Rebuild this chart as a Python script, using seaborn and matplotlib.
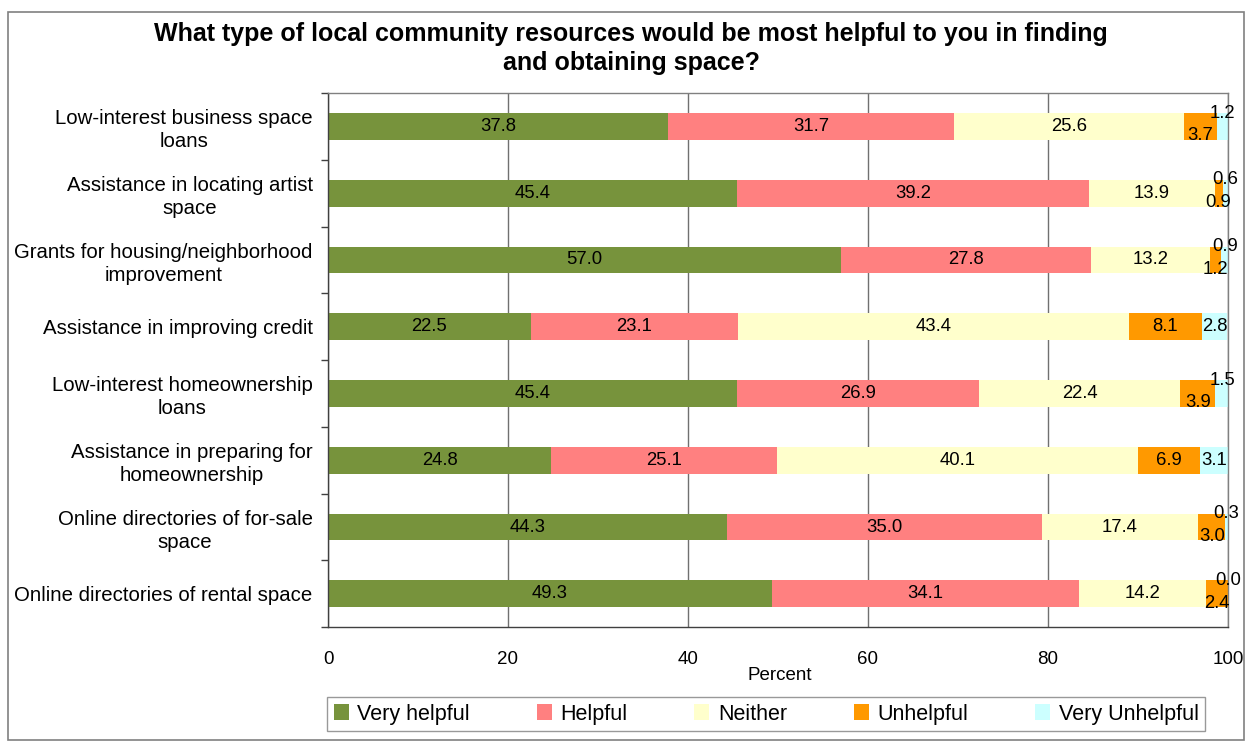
import numpy as np
import pandas as pd
import matplotlib
matplotlib.use('Agg')
import matplotlib.pyplot as plt
import seaborn as sns
from matplotlib.patches import Rectangle, Patch

items = ['Low-interest business space\nloans',
         'Assistance in locating artist\nspace',
         'Grants for housing/neighborhood\nimprovement',
         'Assistance in improving credit',
         'Low-interest homeownership\nloans',
         'Assistance in preparing for\nhomeownership',
         'Online directories of for-sale\nspace',
         'Online directories of rental space']

very_helpful = [37.8, 45.4, 57.0, 22.5, 45.4, 24.8, 44.3, 49.3]
helpful = [31.7, 39.2, 27.8, 23.1, 26.9, 25.1, 35.0, 34.1]
neither = [25.6, 13.9, 13.2, 43.4, 22.4, 40.1, 17.4, 14.2]
unhelpful = [3.7, 0.9, 1.2, 8.1, 3.9, 6.9, 3.0, 2.4]
very_unhelpful = [1.2, 0.6, 0.9, 2.8, 1.5, 3.1, 0.3, 0.0]

series_names = ['Very helpful', 'Helpful', 'Neither', 'Unhelpful', 'Very Unhelpful']
colors = ['#77933C', '#FF8080', '#FFFFCC', '#FF9900', '#CCFFFF']

df = pd.DataFrame({'item': items, 'Very helpful': very_helpful, 'Helpful': helpful,
                   'Neither': neither, 'Unhelpful': unhelpful, 'Very Unhelpful': very_unhelpful})
cum = df[series_names].cumsum(axis=1)

sns.set_style('white')
plt.rcParams['font.family'] = ['Liberation Sans', 'DejaVu Sans']
plt.rcParams['text.color'] = 'black'
plt.rcParams['xtick.color'] = 'black'
plt.rcParams['ytick.color'] = 'black'
plt.rcParams['axes.labelcolor'] = 'black'

fig = plt.figure(figsize=(12.5, 7.44), dpi=100)
ax = fig.add_axes([0.2624, 0.157, 0.72, 0.718])

# stacked bars: draw cumulative totals from the largest down
for name, col in reversed(list(zip(series_names, colors))):
    sns.barplot(x=cum[name], y=df['item'], color=col, orient='h', width=0.40,
                ax=ax, errorbar=None, saturation=1, linewidth=0)

# data labels
for i in range(len(items)):
    left = 0
    for name in series_names:
        v = df.loc[i, name]
        xc = left + v / 2
        yc = i
        if name == 'Unhelpful' and v < 5:
            yc = i + 0.14
        if name == 'Very Unhelpful' and v < 2:
            yc = i - 0.2
        ax.text(xc, yc, f'{v:.1f}', ha='center', va='center', fontsize=13.3, color='black')
        left += v

ax.set_xlim(0, 100)
ax.set_ylim(len(items) - 0.5, -0.5)
ax.set_xticks([0, 20, 40, 60, 80, 100])
ax.set_yticks(np.arange(-0.5, len(items), 1), minor=True)
ax.tick_params(axis='x', which='major', labelsize=13.5, length=5, width=1, color='#404040', pad=12, direction='out')
ax.tick_params(axis='y', which='major', labelsize=14.7, length=0, pad=11)
ax.tick_params(axis='y', which='minor', length=5, width=1, color='#404040', direction='out', left=True)
ax.set_xlabel('Percent', fontsize=13.5)
ax.xaxis.set_label_coords(0.502, -0.075)
ax.set_ylabel('')
for lbl in ax.get_yticklabels():
    lbl.set_horizontalalignment('right')
    lbl.set_multialignment('center')
    lbl.set_linespacing(1.25)
ax.xaxis.grid(True, color='#707070', linewidth=1)
ax.set_axisbelow(True)
for sp in ax.spines.values():
    sp.set_color('#808080')
    sp.set_linewidth(1)
ax.spines['left'].set_color('#404040')
ax.spines['bottom'].set_color('#404040')

fig.text(0.505, 0.935, 'What type of local community resources would be most helpful to you in finding\nand obtaining space?',
         fontsize=18, fontweight='bold', ha='center', va='center', linespacing=1.25)

handles = [Patch(facecolor=c, edgecolor='none') for c in colors]
leg = fig.legend(handles, series_names, ncol=5, loc='center', bbox_to_anchor=(0.613, 0.0403),
                 fontsize=15.5, frameon=True, fancybox=False, handlelength=0.7, handleheight=0.7,
                 handletextpad=0.4, columnspacing=3.1, borderpad=0.3)
leg.get_frame().set_edgecolor('#808080')
leg.get_frame().set_linewidth(1)

fig.patches.append(Rectangle((0.0064, 0.005), 0.989, 0.979, transform=fig.transFigure,
                             fill=False, edgecolor='#808080', linewidth=1.2))

fig.savefig('out.png', dpi=100)
